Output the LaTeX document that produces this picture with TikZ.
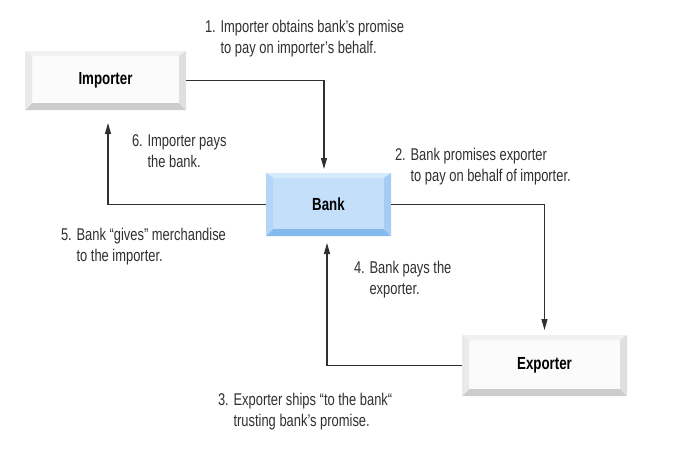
\documentclass[tikz,border=0pt]{standalone}
\usepackage{fontspec}
\setmainfont{Liberation Sans}[FakeStretch=0.76]
\usetikzlibrary{arrows.meta}
\definecolor{wface}{HTML}{FBFBFB}
\definecolor{wtop}{HTML}{F1F1F1}
\definecolor{wleft}{HTML}{EAEAEA}
\definecolor{wright}{HTML}{DFDFDF}
\definecolor{wbot}{HTML}{CCCCCC}
\definecolor{bface}{HTML}{C3DFFA}
\definecolor{btop}{HTML}{D4EAFD}
\definecolor{bleft}{HTML}{B3D5F6}
\definecolor{bright}{HTML}{A5CCF2}
\definecolor{bbot}{HTML}{84BAEE}
\definecolor{txt}{HTML}{303030}
\definecolor{wire}{HTML}{303030}
\begin{document}
\begin{tikzpicture}[x=1pt,y=-1pt,inner sep=0pt,outer sep=0pt,
btnbox/.style={rectangle,fill=#1face,text=black,
  font=\fontsize{17.5}{21}\selectfont\bfseries,
  path picture={
    \coordinate (pnw) at (path picture bounding box.north west);
    \coordinate (pne) at (path picture bounding box.north east);
    \coordinate (psw) at (path picture bounding box.south west);
    \coordinate (pse) at (path picture bounding box.south east);
    \fill[#1top] (pnw) -- (pne) -- ([xshift=-7pt,yshift=-5pt]pne) -- ([xshift=7pt,yshift=-5pt]pnw) -- cycle;
    \fill[#1bot] (psw) -- (pse) -- ([xshift=-7pt,yshift=7pt]pse) -- ([xshift=7pt,yshift=7pt]psw) -- cycle;
    \fill[#1left] (pnw) -- ([xshift=7pt,yshift=-5pt]pnw) -- ([xshift=7pt,yshift=7pt]psw) -- (psw) -- cycle;
    \fill[#1right] (pne) -- ([xshift=-7pt,yshift=-5pt]pne) -- ([xshift=-7pt,yshift=7pt]pse) -- (pse) -- cycle;
  }},
note/.style={anchor=north west,align=left,text=txt,font=\fontsize{17}{21}\selectfont},
flow/.style={draw=wire,line width=1.2pt,-{Triangle[length=11pt,width=6pt]}}]

\useasboundingbox (0,0) rectangle (686,448);

\draw (105.5,80.5) node[btnbox=w,minimum width=161pt,minimum height=59pt] (imp) {Importer};
\draw (328.5,204.5) node[btnbox=b,minimum width=125pt,minimum height=63pt] (bank) {Bank};
\draw (544.5,365.5) node[btnbox=w,minimum width=165pt,minimum height=61pt] (exp) {Exporter};

\draw[flow] (imp.east) -| ([xshift=-4.5pt,yshift=4pt]bank.north);
\draw[flow] (bank.east) -| ([yshift=5pt]exp.north);
\draw[flow] (exp.west) -| ([xshift=-1.5pt,yshift=-7pt]bank.south);
\draw[flow] (bank.west) -| ([xshift=2.5pt,yshift=-13pt]imp.south);

\node[note] (step1) at (205,20.5) {1. Importer obtains bank’s promise\\\phantom{1. }to pay on importer’s behalf.};
\node[note] (step2) at (395,148.5) {2. Bank promises exporter\\\phantom{2. }to pay on behalf of importer.};
\node[note] (step3) at (218,393.5) {3. Exporter ships “to the bank“\\\phantom{3. }trusting bank’s promise.};
\node[note] (step4) at (354,261.5) {4. Bank pays the\\\phantom{4. }exporter.};
\node[note] (step5) at (61,228.5) {5. Bank “gives” merchandise\\\phantom{5. }to the importer.};
\node[note] (step6) at (132,134.5) {6. Importer pays\\\phantom{6. }the bank.};
\end{tikzpicture}
\end{document}
